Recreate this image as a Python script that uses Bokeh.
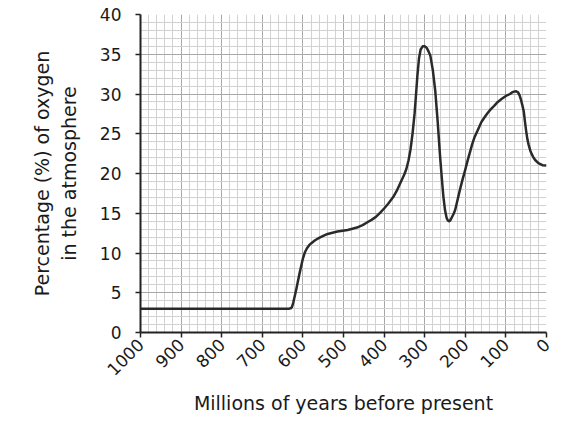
import math
from bokeh.plotting import figure
from bokeh.models import Range1d, SingleIntervalTicker, ColumnDataSource
from bokeh.embed import file_html
from bokeh.resources import INLINE

years = [1000, 635, 630, 627, 624, 620, 616, 612, 608, 604, 600, 595, 590, 585, 580,
         570, 560, 550, 539, 527, 515, 502, 490, 478, 467, 453, 440, 430, 419, 410, 400,
         390, 378, 369, 360, 350, 345, 340, 335, 330, 325, 322, 318, 314, 310, 305, 300,
         295, 290, 286, 280, 274, 268, 262, 258, 254, 250, 246, 243, 240, 237, 233, 229,
         225, 219, 213, 207, 201, 195, 189, 183, 177, 168, 160, 152, 145, 137, 129, 120,
         110, 100, 90, 85, 80, 75, 70, 66, 63, 60, 56, 53, 50, 47, 44, 40, 37, 33, 28,
         20, 10, 0]
oxygen = [3.0, 3.0, 3.05, 3.2, 3.7, 4.6, 5.5, 6.5, 7.5, 8.4, 9.3, 10.1, 10.6, 10.95, 11.2,
          11.6, 11.9, 12.15, 12.4, 12.55, 12.7, 12.8, 12.9, 13.05, 13.2, 13.5, 13.9, 14.2, 14.6, 15.05, 15.6,
          16.2, 17.0, 17.8, 18.8, 19.9, 20.6, 21.6, 23.0, 25.0, 27.5, 29.5, 32.3, 34.5, 35.6, 36.0, 36.0,
          35.8, 35.3, 34.8, 33.0, 30.4, 26.5, 22.1, 19.5, 17.1, 15.4, 14.4, 14.1, 14.0, 14.1, 14.5, 14.9,
          15.4, 16.7, 18.0, 19.2, 20.3, 21.5, 22.6, 23.7, 24.6, 25.6, 26.5, 27.1, 27.6, 28.1, 28.5, 29.0,
          29.4, 29.75, 30.0, 30.2, 30.3, 30.35, 30.2, 29.8, 29.3, 28.7, 27.8, 26.5, 25.3, 24.3, 23.6, 22.9, 22.5, 22.1, 21.7,
          21.3, 21.05, 21.0]

x_title = "Millions of years before present"
y_title = "Percentage (%) of oxygen\nin the atmosphere"

FONT = "DejaVu Sans"

p = figure(width=556, height=417, output_backend="svg", toolbar_location=None,
           x_range=Range1d(1000, 0), y_range=Range1d(0, 40),
           min_border_left=140, min_border_right=10, min_border_top=14, min_border_bottom=84)
p.outline_line_color = None
p.background_fill_color = "white"

src = ColumnDataSource(dict(x=years, y=oxygen))
p.line("x", "y", source=src, line_color="#2a2a2a", line_width=2.5, line_join="round")

p.xaxis.ticker = SingleIntervalTicker(interval=100, num_minor_ticks=5)
p.yaxis.ticker = SingleIntervalTicker(interval=5, num_minor_ticks=5)

for g in (p.xgrid, p.ygrid):
    g.grid_line_color = "#a8a8a8"
    g.grid_line_width = 1
    g.minor_grid_line_color = "#d2d2d2"
    g.minor_grid_line_width = 1

for ax in (p.xaxis, p.yaxis):
    ax.axis_line_color = "#222222"
    ax.axis_line_width = 2
    ax.major_tick_line_color = "#222222"
    ax.major_tick_line_width = 1.5
    ax.major_tick_out = 5
    ax.major_tick_in = 0
    ax.minor_tick_line_color = None
    ax.major_label_text_font = FONT
    ax.major_label_text_font_size = "17px"
    ax.major_label_text_color = "#1a1a1a"
    ax.axis_label_text_font = FONT
    ax.axis_label_text_font_size = "19px"
    ax.axis_label_text_font_style = "normal"
    ax.axis_label_text_color = "#1a1a1a"

p.xaxis.axis_label = x_title
p.yaxis.axis_label = y_title
p.xaxis.major_label_orientation = math.pi / 4
p.xaxis.major_label_standoff = 4
p.yaxis.major_label_standoff = 14
p.xaxis.axis_label_standoff = 8
p.yaxis.axis_label_standoff = 17

open("out.html", "w").write(file_html(p, INLINE))
